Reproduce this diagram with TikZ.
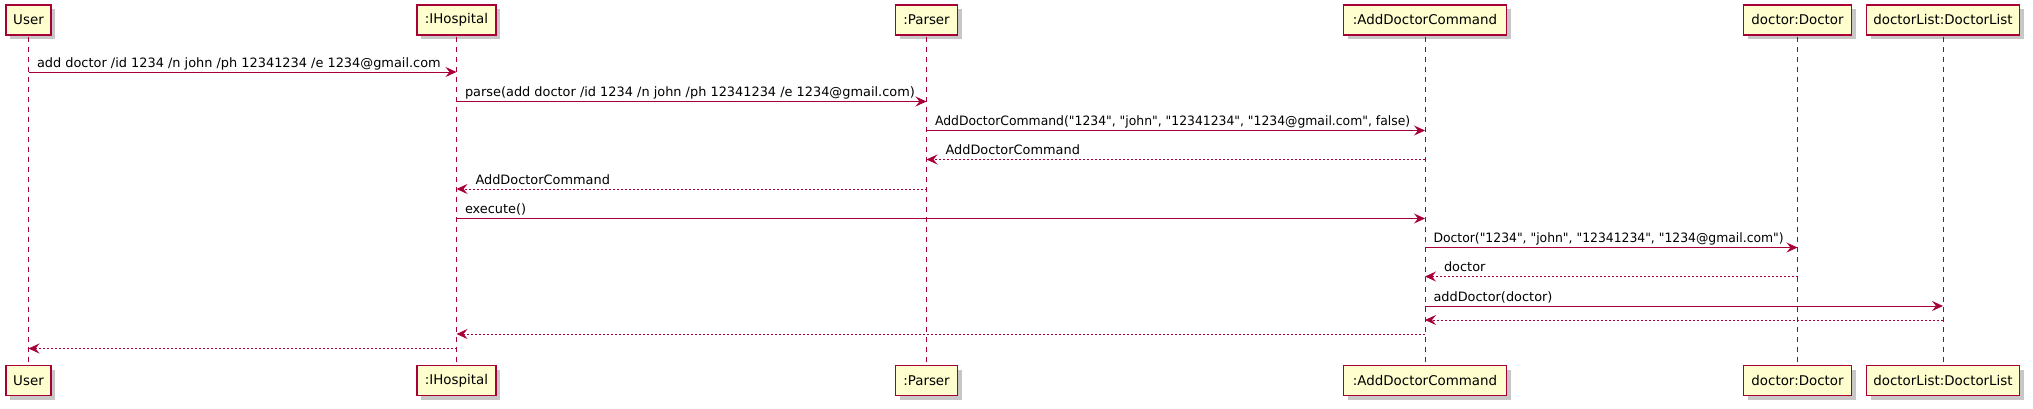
\documentclass[tikz,border=0pt]{standalone}
\usepackage{graphicx}
\usepackage{fontspec}
\setmainfont{DejaVu Sans}[Ligatures=TeXOff]
\usetikzlibrary{arrows.meta,shadows}
\definecolor{pcol}{HTML}{A80036}
\definecolor{pfill}{HTML}{FEFECE}
\begin{document}
\begin{tikzpicture}[x=1pt,y=-1pt,
  part/.style={draw=pcol, fill=pfill, line width=1.3pt, minimum height=30pt, inner sep=0pt,
    font=\fontsize{13.4}{16}\selectfont,
    drop shadow={shadow xshift=4pt, shadow yshift=-4pt, opacity=0.22, fill=black}},
  lifeline/.style={draw=pcol, line width=0.9pt, dash pattern=on 5pt off 5pt},
  call/.style={draw=pcol, line width=1pt, -{Stealth[length=11pt,width=10pt,inset=4pt]}},
  ret/.style={draw=pcol, line width=1pt, dash pattern=on 2pt off 2pt, -{Stealth[length=11pt,width=10pt,inset=4pt]}},
  lbl/.style={font=\fontsize{12.9}{15}\selectfont, inner sep=0pt, anchor=base west},
]
\useasboundingbox (0,0) rectangle (2033,408);

% participants (top)
\node[part, minimum width=45pt]  (user)   at (28.5,20) {User};
\node[part, minimum width=79pt]  (hosp)   at (456.5,20) {:IHospital};
\node[part, minimum width=62pt]  (parser) at (926.5,20) {:Parser};
\node[part, minimum width=163pt] (adc)    at (1425,20) {:AddDoctorCommand};
\node[part, minimum width=108pt] (doc)    at (1797.5,20) {doctor:Doctor};
\node[part, minimum width=153pt] (dlist)  at (1943,20) {doctorList:DoctorList};
% participants (bottom)
\node[part, minimum width=45pt]  (userb)   at (28.5,380.5) {User};
\node[part, minimum width=79pt]  (hospb)   at (456.5,380.5) {:IHospital};
\node[part, minimum width=62pt]  (parserb) at (926.5,380.5) {:Parser};
\node[part, minimum width=163pt] (adcb)    at (1425,380.5) {:AddDoctorCommand};
\node[part, minimum width=108pt] (docb)    at (1797.5,380.5) {doctor:Doctor};
\node[part, minimum width=153pt] (dlistb)  at (1943,380.5) {doctorList:DoctorList};

% lifelines
\foreach \a/\b in {user/userb,hosp/hospb,parser/parserb,adc/adcb,doc/docb,dlist/dlistb}
  \draw[lifeline] ([yshift=-1pt]\a.south) -- ([yshift=1pt]\b.north);

% messages
\draw[call] (user |- 0,72) -- node[lbl, at start, xshift=8pt, yshift=5pt]
  {add doctor /id 1234 /n john /ph 12341234 /e 1234@gmail.com} (hosp |- 0,72);
\draw[call] (hosp |- 0,101.5) -- node[lbl, at start, xshift=8pt, yshift=5pt]
  {parse(add doctor /id 1234 /n john /ph 12341234 /e 1234@gmail.com)} (parser |- 0,101.5);
\draw[call] (parser |- 0,130.5) -- node[lbl, at start, xshift=8pt, yshift=5pt]
  {\scalebox{0.96}[1]{AddDoctorCommand("1234", "john", "12341234", "1234@gmail.com", false)}} (adc |- 0,130.5);
\draw[ret] (adc |- 0,159.5) -- node[lbl, at end, xshift=18.5pt, yshift=5pt]
  {AddDoctorCommand} (parser |- 0,159.5);
\draw[ret] (parser |- 0,189) -- node[lbl, at end, xshift=18.5pt, yshift=5pt]
  {AddDoctorCommand} (hosp |- 0,189);
\draw[call] (hosp |- 0,218.5) -- node[lbl, at start, xshift=8pt, yshift=5pt]
  {execute()} (adc |- 0,218.5);
\draw[call] (adc |- 0,247.5) -- node[lbl, at start, xshift=8pt, yshift=5pt]
  {\scalebox{0.96}[1]{Doctor("1234", "john", "12341234", "1234@gmail.com")}} (doc |- 0,247.5);
\draw[ret] (doc |- 0,276.5) -- node[lbl, at end, xshift=18.5pt, yshift=5pt]
  {doctor} (adc |- 0,276.5);
\draw[call] (adc |- 0,306) -- node[lbl, at start, xshift=8pt, yshift=5pt]
  {addDoctor(doctor)} (dlist |- 0,306);
\draw[ret] (dlist |- 0,320) -- (adc |- 0,320);
\draw[ret] (adc |- 0,334) -- (hosp |- 0,334);
\draw[ret] (hosp |- 0,348.5) -- (user |- 0,348.5);
\end{tikzpicture}
\end{document}
